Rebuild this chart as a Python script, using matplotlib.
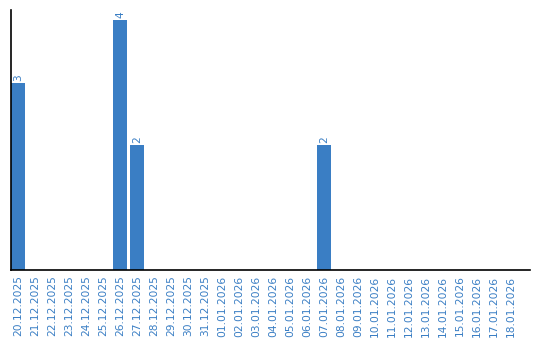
import matplotlib
matplotlib.use("Agg")
import matplotlib.pyplot as plt
import numpy as np

# dates shown on the x axis
dates = ["20.12.2025", "21.12.2025", "22.12.2025", "23.12.2025", "24.12.2025",
         "25.12.2025", "26.12.2025", "27.12.2025", "28.12.2025", "29.12.2025",
         "30.12.2025", "31.12.2025", "01.01.2026", "02.01.2026", "03.01.2026",
         "04.01.2026", "05.01.2026", "06.01.2026", "07.01.2026", "08.01.2026",
         "09.01.2026", "10.01.2026", "11.01.2026", "12.01.2026", "13.01.2026",
         "14.01.2026", "15.01.2026", "16.01.2026", "17.01.2026", "18.01.2026"]
counts = [3, 0, 0, 0, 0, 0, 4, 2, 0, 0,
          0, 0, 0, 0, 0, 0, 0, 0, 2, 0,
          0, 0, 0, 0, 0, 0, 0, 0, 0, 0]

blue = "#3a7ec4"

fig = plt.figure(figsize=(5.4, 3.4), dpi=100)
ax = fig.add_axes([11/540, 70/340, 519/540, 260/340])

x = np.arange(len(dates))
bw = 14/17
ax.bar(x, counts, width=bw, color=blue)

for xi, c in zip(x, counts):
    if c > 0:
        ax.text(xi, c + 0.03, str(c), rotation=90, ha="center", va="bottom",
                color=blue, fontsize=7.7)

ax.set_xlim(-bw/2, 30.1)
ax.set_ylim(0, 4.16)
ax.set_xticks(x)
ax.set_xticklabels(dates, rotation=90, fontsize=7.7, color=blue)
ax.tick_params(axis="x", length=0, pad=4)
ax.set_yticks([])
for s in ["top", "right"]:
    ax.spines[s].set_visible(False)
for s in ["left", "bottom"]:
    ax.spines[s].set_linewidth(1.2)
    ax.spines[s].set_color("black")

plt.savefig("out.png", dpi=100)
